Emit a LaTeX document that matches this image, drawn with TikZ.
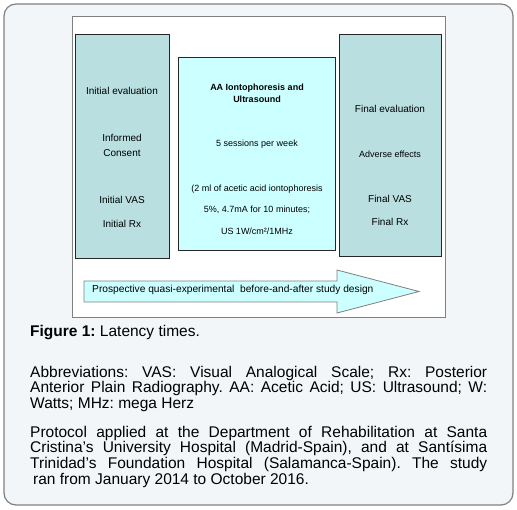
\documentclass[tikz,border=0pt]{standalone}
\usepackage{fontspec}
\setmainfont{Liberation Sans}
\frenchspacing
\definecolor{pagebg}{RGB}{243,246,249}
\definecolor{evalfill}{RGB}{185,223,225}
\definecolor{treatfill}{RGB}{204,255,255}
\definecolor{framegray}{RGB}{128,128,128}
\newcommand{\sidetext}[4]{\node[sidelabel] (#1) at (#2,#3) {#4};}
\newcommand{\midtext}[4]{\node[midlabel] (#1) at (#2,#3) {#4};}
\newcommand{\stagebox}[5]{\filldraw[fill=#5, draw=black!85] (#1,#2) rectangle (#3,#4);}
\tikzset{
  sidelabel/.style={inner sep=0pt, font=\fontsize{10}{12}\selectfont, text height=7pt, text depth=0pt},
  midlabel/.style={inner sep=0pt, font=\fontsize{9}{11}\selectfont, text height=6.5pt, text depth=0pt},
  captext/.style={inner sep=0pt, anchor=north west, text width=457pt, align=justify,
    font=\fontsize{15.5}{15.7}\selectfont}
}
\begin{document}
\begin{tikzpicture}[x=1pt, y=-1pt]
    \useasboundingbox (0,0) rectangle (517,510);
    \filldraw[fill=pagebg, draw=framegray, line width=1.2pt, rounded corners=12pt] (4,4) rectangle (513,505);
    \filldraw[fill=white, draw=framegray, line width=0.8pt] (72,16) rectangle (445,317);
    % three stages
    \stagebox{75}{34}{169}{258}{evalfill}
    \stagebox{178}{57}{335}{250}{treatfill}
    \stagebox{339}{34}{441}{256}{evalfill}
    \sidetext{ini1}{122}{91}{Initial evaluation}
    \sidetext{ini2}{122}{138}{Informed}
    \sidetext{ini3}{122}{153}{Consent}
    \sidetext{ini4}{122}{200}{Initial VAS}
    \sidetext{ini5}{122}{224}{Initial Rx}
    \midtext{trt1}{257}{87}{\bfseries AA Iontophoresis and}
    \midtext{trt2}{257}{99}{\bfseries Ultrasound}
    \midtext{trt3}{257}{143}{5 sessions per week}
    \midtext{trt4}{257}{188}{(2 ml of acetic acid iontophoresis}
    \midtext{trt5}{257}{209}{5\%, 4.7mA for 10 minutes;}
    \midtext{trt6}{257}{231}{US 1W/cm²/1MHz}
    \sidetext{fin1}{390}{109}{Final evaluation}
    \sidetext{fin2}{390}{154}{\fontsize{9}{11}\selectfont Adverse effects}
    \sidetext{fin3}{390}{199}{Final VAS}
    \sidetext{fin4}{390}{222}{Final Rx}
    % study design arrow
    \filldraw[fill=treatfill, draw=framegray, line width=0.8pt]
      (84,281) -- (337,281) -- (337,270) -- (419,291.5) -- (337,313) -- (337,302) -- (84,302) -- cycle;
    \node[sidelabel, anchor=west, font=\fontsize{10.2}{12}\selectfont] (design) at (92,289)
      {Prospective quasi-experimental\ \ before-and-after study design};
    % caption
    \node[inner sep=0pt, anchor=base west, font=\fontsize{15.5}{15.7}\selectfont] (figcap) at (30,337)
      {\textbf{Figure 1:} Latency times.};
    \node[captext] (abbrev) at (30,365.7) {\emergencystretch=2em
      Abbreviations: VAS: Visual Analogical Scale; Rx: Posterior\linebreak
      Anterior Plain Radiography. AA: Acetic Acid; US: Ultrasound; W:\linebreak
      Watts; MHz: mega Herz};
    \node[captext] (protocol) at (30,425.7) {\emergencystretch=2em
      Protocol applied at the Department of Rehabilitation at Santa\linebreak
      Cristina’s University Hospital (Madrid-Spain), and at Santísima\linebreak
      Trinidad’s Foundation Hospital (Salamanca-Spain). The study\linebreak
      \hspace*{3pt}ran from January 2014 to October 2016.};
\end{tikzpicture}
\end{document}
